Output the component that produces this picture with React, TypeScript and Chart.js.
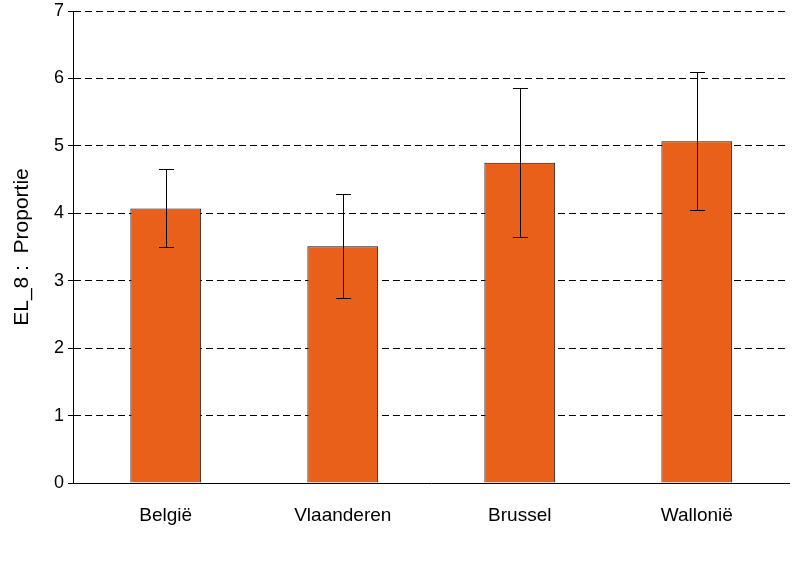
import React, { useEffect, useRef } from "react";
import { Chart, registerables } from "chart.js";

Chart.register(...registerables);

const categories = ["België", "Vlaanderen", "Brussel", "Wallonië"];
const values = [4.07, 3.51, 4.75, 5.07];
const errLow = [3.5, 2.74, 3.65, 4.05];
const errHigh = [4.65, 4.29, 5.86, 6.1];
const yTicks = [0, 1, 2, 3, 4, 5, 6, 7];
const yTitle = "EL_8 :  Proportie";

const FONT = "'Liberation Sans', Arial, Helvetica, sans-serif";

const errorBarPlugin = {
  id: "errorBars",
  afterDatasetsDraw(chart: any) {
    const { ctx, scales } = chart;
    const xs = scales.x;
    const ys = scales.y;
    ctx.save();
    ctx.strokeStyle = "#000";
    ctx.lineWidth = 1;
    const half = 7.5;
    categories.forEach((_, i) => {
      const x = Math.round(xs.getPixelForValue(i)) + 0.5;
      const yh = Math.round(ys.getPixelForValue(errHigh[i])) + 0.5;
      const yl = Math.round(ys.getPixelForValue(errLow[i])) + 0.5;
      ctx.beginPath();
      ctx.moveTo(x, yh);
      ctx.lineTo(x, yl);
      ctx.moveTo(x - half, yh);
      ctx.lineTo(x + half, yh);
      ctx.moveTo(x - half, yl);
      ctx.lineTo(x + half, yl);
      ctx.stroke();
    });
    ctx.restore();
  },
};

export default function App() {
  const ref = useRef<HTMLCanvasElement | null>(null);
  useEffect(() => {
    if (!ref.current) return;
    const chart = new Chart(ref.current, {
      type: "bar",
      data: {
        datasets: [
          {
            data: categories.map((_, i) => ({ x: i, y: values[i] })),
            backgroundColor: "#E8601A",
            borderColor: "#111",
            borderWidth: 1,
            barPercentage: 0.4,
            categoryPercentage: 1,
          },
        ],
      },
      options: {
        responsive: false,
        animation: false,
        devicePixelRatio: 1,
        layout: { padding: { top: 11, right: 9, left: 0, bottom: 0 } },
        plugins: { legend: { display: false }, tooltip: { enabled: false } },
        scales: {
          x: {
            type: "linear",
            offset: false,
            min: -0.524,
            max: 3.521,
            grid: { display: false, drawTicks: false, offset: false },
            border: { display: true, color: "#000", width: 1 },
            afterBuildTicks: (scale: any) => {
              scale.ticks = categories.map((_, i) => ({ value: i }));
            },
            afterFit: (scale: any) => {
              scale.height = 88;
              scale.paddingLeft = 0;
              scale.paddingRight = 0;
            },
            ticks: {
              color: "#000",
              padding: 21,
              font: { family: FONT, size: 19 },
              callback: (v: any) => categories[v as number] ?? "",
            },
          },
          y: {
            min: 0,
            max: 7,
            afterBuildTicks: (scale: any) => {
              scale.ticks = yTicks.map((v) => ({ value: v }));
            },
            afterFit: (scale: any) => {
              scale.width = 73;
              scale.paddingTop = 0;
              scale.paddingBottom = 0;
            },
            grid: {
              color: (c: any) => (c.tick && c.tick.value === 0 ? "rgba(0,0,0,0)" : "#000"),
              tickColor: "#000",
              lineWidth: 1,
              tickLength: 5,
              tickBorderDash: [],
            } as any,
            border: { display: true, color: "#000", width: 1, dash: [7, 4] } as any,
            ticks: {
              color: "#000",
              padding: 4,
              font: { family: FONT, size: 18 },
            },
            title: {
              display: true,
              text: yTitle,
              color: "#000",
              font: { family: FONT, size: 21 },
              padding: { top: 10, bottom: 0 },
            },
          },
        },
      },
      plugins: [errorBarPlugin],
    });
    return () => chart.destroy();
  }, []);
  return (
    <div style={{ position: "absolute", left: 0, top: 0, width: 798, height: 571, background: "#fff" }}>
      <canvas ref={ref} width={798} height={571} />
    </div>
  );
}
